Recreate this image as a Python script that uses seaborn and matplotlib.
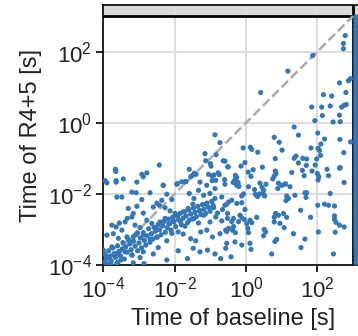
import numpy as np
import matplotlib
matplotlib.use("Agg")
import matplotlib.pyplot as plt
import seaborn as sns
from matplotlib.ticker import FixedLocator, NullLocator

# log10 of runtime in seconds
log_base = [
    2.78, 2.73, 2.73, 1.87, 1.17, 0.41, 2.62, 2.87, 2.80, 2.17, 2.40,
    1.84, 2.12, 2.36, 2.68, 2.75, 2.81, 2.14, 2.62, 1.93, 2.44, 2.64, 1.35, 1.47, 2.01,
    0.79, 0.93, 2.20, 2.10, 2.63, 1.82, 2.02, 2.06, 1.01, -0.08, 0.12, 0.16, 0.33, 2.09,
    2.74, 1.40, 1.35, 1.59, 1.70, 0.82, 1.98, 1.47, -0.03, -0.14, -0.51, 0.46, 1.69, 1.94,
    2.64, 2.62, 2.27, 0.20, 0.06, 0.82, 0.84, 0.79, 1.28, 1.58, 1.85, 2.00, 2.04, 2.02,
    1.63, 2.31, -0.30, -0.26, -0.31, 0.14, 0.39, 0.75, 0.91, 1.09, -0.36, -0.22, 2.75,
    0.56, -0.59,
    -0.26, -0.20, 0.07, 0.45, 0.49, 0.38, 0.48, 0.31, 0.52, 0.24, 0.26, 0.33, -0.07, -0.12,
    0.89, 1.00, 1.11, 1.23, 1.14, 1.19, 1.12, 1.37, 1.65, 1.70, 1.68, 2.36, 2.01, 2.20,
    2.31, 2.48, 2.48, 2.48, 2.52, 2.62, 2.75, 2.50, 2.03, 1.81, 1.53, 1.33, 1.65, 1.54,
    0.83, 0.79, 0.79, 0.91, 1.05, 1.14, 0.95, 1.07, 0.51, 0.55, 0.49, 0.86, 0.81, 0.72,
    2.45, 0.11, 0.14, -0.12, -0.31, -0.42, 0.30, 0.11, 0.16, 0.02, 0.05, 0.07,
    -0.17, -0.12, -0.05, -0.21, -0.35, -0.40, -0.35, -0.49, -0.54, -0.38, -0.30,
    -0.59, -0.49, -0.40, -0.26, -0.12, -0.03, -0.54,
    -0.87, -0.73, -1.15, -0.84, -1.00, -0.98, -1.13, -0.64, -0.50, -0.78, -2.43, -3.66,
    -3.65, -3.95, -3.64, -3.44, -2.92, -2.78, -2.88, -1.59, -1.45, -1.50, -1.40, -1.55,
    -1.05, -0.95, -0.90, -0.75, -0.85, -0.95, -0.60, -2.32, -1.94, -1.80, -1.70,
    -3.90, -3.64, -3.06, -2.32, -1.92, -1.68, -1.29, -1.10, -0.87, -0.59, -3.62, -3.48,
    -3.20, -3.08, -2.69, -2.92, -2.50, -2.36, -2.22, -2.08, -1.59, -1.46, -1.33, -1.19,
    -1.01, -0.87, -0.68, -0.54, -3.30, -3.16, -3.06, -2.88, -2.60, -2.43, -2.27, -2.13,
    -1.99, -1.76, -1.62, -1.49, -1.29, -1.12, -0.91, -0.80, -0.66, -0.52, -3.76, -3.64,
    -3.55, -3.39, -3.33, -3.20, -3.11, -2.97, -2.78, -2.64, -2.53, -2.41, -2.27, -2.16,
    -2.04, -1.92, -1.83, -1.71, -1.59, -1.46, -1.33, -1.18, -1.01, -0.85, -0.68, -0.52,
    -3.90, -3.72, -3.58, -3.48, -3.34, -3.23, -3.16, -3.04, -2.88, -2.69, -2.50, -2.22,
    -2.08, -1.90, -1.76, -1.55, -1.41, -1.27, -1.10, -0.94, -0.73, -0.57, -4.00, -3.86,
    -3.76, -3.62, -3.51, -3.39, -3.20, -2.97, -2.88, -2.60, -2.46, -2.22, -1.90, -1.64,
    -1.48, -1.29, -1.08, -0.87, -0.71, -0.57, -3.95, -3.79, -3.60, -3.16, -2.86,
    -3.98, -3.95, -3.91, -3.87, -3.85, -3.80, -3.78, -3.73, -3.70, -3.66, -3.62, -3.60,
    -3.55, -3.52, -3.47, -3.45, -3.41, -3.37, -3.33, -3.30, -3.26, -3.22, -3.19, -3.15,
    -3.11, -3.08, -3.04, -3.00, -2.96, -2.93, -2.88, -2.85, -2.81, -2.77, -2.73, -2.69,
    -2.65, -2.61, -2.58, -2.54, -2.49, -2.46, -2.42, -2.38, -2.34, -2.30, -2.26, -2.21,
    -2.18, -2.14, -2.10, -2.06, -2.02, -1.97, -1.93, -1.89, -1.85, -1.81, -1.76, -1.72,
    -1.68, -1.64, -1.60, -1.55, -1.51, -1.47, -1.43, -1.39, -1.35, -1.30, -1.26, -1.22,
    -1.18, -1.13, -1.09, -1.05, -1.01, -0.96, -0.92,
    2.93, 2.93,
]
log_r45 = [
    2.45, 2.23, 2.08, 1.89, 1.45, 0.85, 1.12, 1.18, 0.85, 0.79, 0.75,
    0.44, 0.44, 0.47, 0.44, 0.49, 0.51, 0.20, 0.21, 0.06, 0.02, 0.03, -0.12, -0.35, -0.29,
    -0.41, -0.55, -0.46, -0.60, -0.47, -0.71, -0.72, -0.78, -0.77, -0.71, -0.69, -0.75, -0.83, -0.92,
    -0.84, -0.94, -1.00, -1.00, -1.02, -1.01, -1.02, -1.13, -1.12, -1.22, -1.24, -1.25, -1.20, -1.19,
    -1.26, -1.28, -1.31, -1.32, -1.39, -1.36, -1.43, -1.50, -1.40, -1.34, -1.36, -1.43, -1.52, -1.61,
    -1.49, -1.49, -1.48, -1.54, -1.60, -1.51, -1.70, -1.58, -1.70, -1.73, -1.68, -1.68, -1.68,
    -1.73, -1.08,
    -1.76, -1.79, -1.80, -1.82, -1.90, -2.00, -2.00, -2.06, -2.06, -1.88, -2.01, -2.07, -2.00, -2.06,
    -1.85, -1.76, -1.72, -1.80, -2.06, -2.13, -2.19, -2.04, -1.97, -1.97, -2.10, -1.99, -2.32, -2.29,
    -2.32, -2.34, -2.62, -2.72, -2.80, -2.88, -2.93, -3.08, -3.07, -2.66, -2.46, -3.12, -3.27, -3.51,
    -2.55, -2.66, -2.79, -2.60, -2.55, -2.66, -2.83, -2.95, -3.00, -3.07, -3.18, -3.28, -3.34, -3.69,
    -3.69, -3.39, -3.56, -3.44, -3.35, -3.77, -2.66, -2.74, -2.81, -2.84, -2.97, -3.09,
    -2.60, -2.67, -2.72, -2.78, -2.69, -2.78, -2.92, -2.97, -3.06, -3.02, -3.09,
    -2.32, -2.23, -2.18, -2.27, -2.25, -2.44, -3.39,
    -0.34, -0.56, -0.87, -0.90, -1.15, -1.22, -1.07, -1.07, -1.24, -1.41, -1.19, -1.31,
    -1.37, -1.63, -1.63, -1.58, -1.45, -1.41, -1.52, -1.31, -1.42, -1.48, -1.45, -1.52,
    -1.45, -1.50, -1.47, -1.46, -1.62, -1.63, -1.60, -1.76, -1.73, -1.66, -1.66,
    -1.69, -1.67, -1.67, -1.76, -1.71, -1.65, -1.67, -1.76, -1.85, -1.73, -2.09, -2.09,
    -1.95, -1.97, -1.97, -2.16, -2.26, -2.18, -2.01, -2.16, -1.99, -2.13, -1.90, -2.04,
    -1.99, -2.13, -2.09, -2.29, -2.41, -2.55, -2.35, -2.54, -2.37, -2.32, -2.39, -2.48,
    -2.55, -2.51, -2.41, -2.29, -2.48, -2.29, -2.39, -2.54, -2.44, -2.55, -2.88, -2.93,
    -2.82, -2.79, -2.69, -2.65, -2.88, -2.95, -2.74, -2.83, -2.95, -2.79, -2.69, -2.83,
    -2.74, -2.63, -2.79, -2.91, -2.74, -2.69, -2.82, -2.60, -2.79, -2.65, -2.76, -2.69,
    -3.16, -3.12, -3.25, -3.02, -3.21, -3.35, -3.21, -3.10, -3.16, -3.27, -3.21, -3.32,
    -3.11, -3.07, -3.13, -3.26, -3.32, -3.07, -3.02, -3.21, -3.12, -3.02, -3.58, -3.77,
    -3.49, -3.68, -3.86, -3.63, -3.72, -3.79, -3.63, -3.69, -3.51, -3.86, -3.60, -3.82,
    -3.53, -3.63, -3.58, -3.69, -3.82, -3.53, -3.91, -3.96, -3.93, -3.94, -3.96,
    -3.92, -3.70, -3.81, -3.97, -3.60, -3.75, -3.88, -3.52, -3.68, -3.79, -3.95, -3.46,
    -3.62, -3.74, -3.55, -3.37, -3.83, -3.49, -3.64, -3.28, -3.41, -3.57, -3.72, -3.33,
    -3.47, -3.15, -3.60, -3.38, -3.24, -3.52, -3.09, -3.31, -3.44, -3.18, -2.98, -3.36,
    -3.12, -3.27, -2.94, -3.05, -3.22, -2.86, -3.01, -3.15, -2.90, -2.78, -3.08, -2.95,
    -2.71, -2.84, -3.02, -2.66, -2.79, -2.92, -2.61, -2.73, -2.55, -2.87, -2.68, -2.50,
    -2.62, -2.81, -2.45, -2.57, -2.71, -2.40, -2.52, -2.64, -2.35, -2.47, -2.58, -2.30,
    -2.43, -2.55, -2.26, -2.38, -2.49, -2.21, -2.33,
    1.24, -0.54,
]

# runs where the baseline hit the time limit (plotted just past it)
timeout = 1000
log_r45_base_timeout = [
    2.97, 2.91, 2.86, 2.78, 2.74, 2.66, 2.61, 2.55, 2.48, 2.43, 2.37, 2.30, 2.24, 2.19,
    2.12, 2.06, 2.01, 1.94, 1.88, 1.83, 1.77, 1.70, 1.65, 1.58, 1.53, 1.47, 1.40, 1.35,
    1.29, 1.22, 1.17, 1.10, 1.04, 0.99, 0.92, 0.87, 0.80, 0.74, 0.69, 0.62, 0.57, 0.50,
    0.45, 0.38, 0.33, 0.27, 0.20, 0.15, 0.08, 0.03, -0.04, -0.09, -0.16, -0.22, -0.27,
    -0.34, -0.39, -0.46, -0.51, -0.58, -0.63, -0.70, -0.76, -0.81, -0.88, -0.93, -1.00,
    -1.05, -1.12, -1.18, -1.23, -1.30, -1.35, -1.42, -1.47, -1.54, -1.60, -1.65, -1.72,
    -1.77, -1.84, -1.89, -1.96, -2.02, -2.07, -2.14, -2.19, -2.26, -2.31, -2.38, -2.44,
    -2.49, -2.56, -2.61, -2.68, -2.73, -2.80, -2.86, -2.91, -2.98, -3.06, -3.14, -3.19,
    -3.27, -3.35, -3.44, -3.52, -3.63, -3.71, -3.82, -3.93,
]

base_t = np.concatenate([10.0 ** np.array(log_base),
                         np.full(len(log_r45_base_timeout), 1.2 * timeout)])
r45_t = np.concatenate([10.0 ** np.array(log_r45),
                        10.0 ** np.array(log_r45_base_timeout)])

sns.set_theme(style="whitegrid")
plt.rcParams["font.family"] = ["Liberation Sans", "DejaVu Sans"]
plt.rcParams["mathtext.default"] = "regular"

fig = plt.figure(figsize=(3.58, 3.36), dpi=100)
ax = fig.add_axes([103.3 / 358, 71 / 336, 260.5 / 358, 259.7 / 336])

lim = (1e-4, 2 * timeout)
ax.axhspan(timeout, lim[1], color="#d9d9d9", lw=0, zorder=0)
ax.axvspan(timeout, lim[1], color="#d9d9d9", lw=0, zorder=0)
ax.axhline(timeout, color="black", lw=2, zorder=1)
ax.axvline(timeout, color="black", lw=2, zorder=1)
ax.plot([1e-4, timeout], [1e-4, timeout], ls="--", color="#aaaaaa", lw=1.8, zorder=2)

sns.scatterplot(x=base_t, y=r45_t, ax=ax, s=14, color="#3477b7", edgecolor="none",
                linewidth=0, zorder=3)

ax.set_xscale("log")
ax.set_yscale("log")
ax.set_xlim(lim)
ax.set_ylim(lim)
ticks = [1e-4, 1e-2, 1e0, 1e2]
ax.xaxis.set_major_locator(FixedLocator(ticks))
ax.yaxis.set_major_locator(FixedLocator(ticks))
ax.xaxis.set_minor_locator(NullLocator())
ax.yaxis.set_minor_locator(NullLocator())
ax.grid(True, color="#dddddd", lw=1.5)
for sp in ax.spines.values():
    sp.set_color("black")
    sp.set_linewidth(1.2)
ax.tick_params(axis="both", which="major", direction="out", length=5, width=1.2,
               color="black", labelsize=16, labelcolor="#222222", pad=3, bottom=True, left=True)
ax.set_xlabel("Time of baseline [s]", fontsize=17, color="#222222")
ax.set_ylabel("Time of R4+5 [s]", fontsize=17, color="#222222")

fig.savefig("out.png", dpi=100)
